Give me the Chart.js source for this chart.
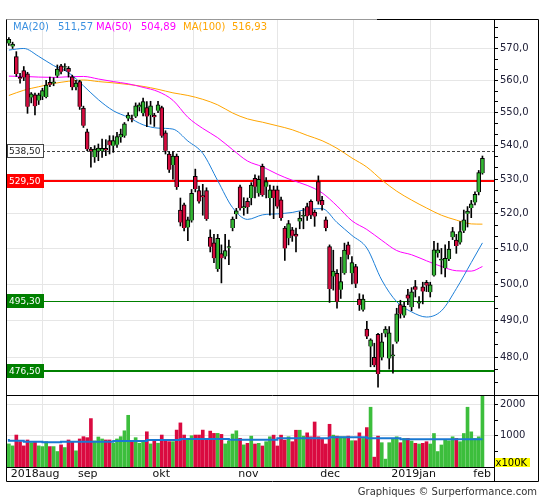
<!DOCTYPE html>
<html>
<head>
<meta charset="utf-8">
<script src="https://cdn.jsdelivr.net/npm/chart.js@4.4.1/dist/chart.umd.min.js"></script>
<style>
    body { margin: 0; background: #fff; }
    #wrap { position: relative; width: 545px; height: 500px; }
    canvas { position: absolute; left: 0; top: 0; }
</style>
</head>
<body>
<div id="wrap">
    <canvas id="priceChart" width="545" height="500"></canvas>
    <canvas id="volChart" width="545" height="500"></canvas>
</div>
<script>
// months on the time axis (index of first trading day)
var monthIdx = [0, 18, 38, 61, 83, 102, 124];
var monthLabels = ['2018aug', 'sep', 'okt', 'nov', 'dec', '2019jan', 'feb'];

var opens = [
    571.6, 570.6, 567.4, 560.9, 563.0, 562.0, 554.7, 555.5, 553.7, 555.0,
    554.8, 559.4, 559.0, 561.4, 564.5, 564.0, 563.7, 561.1, 557.8, 559.6,
    551.4, 544.2, 539.0, 536.5, 538.5, 538.4, 539.2, 541.5, 540.0, 540.3,
    542.5, 543.0, 548.2, 548.2, 548.8, 551.7, 549.8, 551.6, 549.3, 549.3,
    550.6, 551.6, 543.9, 537.5, 534.2, 536.9, 521.0, 522.5, 516.0, 518.0,
    530.9, 526.7, 525.2, 526.7, 513.2, 511.6, 504.2, 508.5, 507.7, 510.2,
    515.8, 519.8, 527.8, 521.6, 523.5, 524.5, 530.3, 525.9, 533.8, 527.8,
    524.5, 526.9, 526.9, 524.0, 515.8, 512.9, 515.3, 514.1, 517.7, 519.2,
    522.0, 523.5, 520.4, 529.3, 523.8, 518.2, 510.5, 502.1, 503.0, 498.4,
    503.0, 511.0, 503.0, 504.9, 495.8, 492.9, 487.6, 482.9, 480.0, 486.2,
    480.0, 486.4, 479.7, 480.3, 484.2, 494.3, 491.3, 497.0, 493.6, 499.3,
    494.7, 499.2, 500.5, 497.7, 502.4, 508.6, 506.6, 504.4, 507.0, 513.2,
    512.4, 511.7, 515.0, 519.9, 521.6, 523.2, 526.2, 531.8
];
var highs = [
    573.5, 572.0, 569.0, 562.2, 564.3, 562.5, 556.2, 556.0, 556.0, 557.5,
    560.0, 561.0, 560.8, 564.8, 565.0, 565.2, 564.3, 561.6, 560.0, 560.0,
    552.0, 545.0, 539.5, 540.0, 540.5, 542.0, 541.8, 543.0, 543.0, 544.0,
    545.0, 547.0, 550.0, 549.3, 553.0, 553.0, 554.5, 553.4, 553.5, 549.8,
    553.5, 552.0, 544.5, 538.2, 538.2, 537.5, 524.5, 523.0, 519.0, 527.0,
    533.0, 528.0, 528.5, 527.5, 515.3, 514.0, 514.0, 511.0, 514.0, 512.4,
    519.0, 521.5, 528.3, 524.6, 524.5, 529.0, 531.3, 531.0, 534.5, 530.5,
    528.3, 528.0, 528.0, 524.8, 516.3, 518.0, 516.0, 515.8, 520.5, 521.5,
    523.0, 524.0, 521.0, 531.0, 525.0, 519.0, 511.0, 509.5, 504.0, 507.5,
    511.5, 511.8, 507.7, 505.5, 497.3, 497.0, 489.7, 485.0, 483.8, 486.5,
    486.5, 488.3, 488.3, 483.4, 493.3, 495.5, 495.0, 498.5, 499.0, 501.0,
    496.5, 500.5, 501.0, 500.5, 512.0, 511.5, 510.0, 511.0, 512.0, 516.0,
    514.0, 517.7, 521.0, 522.0, 523.8, 526.3, 532.6, 536.9
];
var lows = [
    571.0, 570.0, 561.2, 559.1, 559.9, 549.8, 553.0, 549.3, 552.5, 554.0,
    554.5, 558.0, 558.3, 560.9, 562.0, 563.0, 561.0, 557.0, 557.0, 551.0,
    545.5, 538.5, 533.6, 535.0, 535.5, 536.5, 537.0, 537.5, 538.0, 539.5,
    541.0, 542.5, 547.5, 547.2, 548.5, 550.5, 549.0, 545.7, 546.5, 545.8,
    550.0, 542.5, 537.5, 532.0, 530.0, 527.0, 516.4, 515.0, 512.2, 517.5,
    526.3, 523.0, 519.5, 518.0, 509.0, 506.0, 503.5, 500.3, 507.0, 505.4,
    515.0, 518.5, 521.0, 519.5, 520.0, 522.5, 524.5, 525.0, 525.0, 524.5,
    519.5, 518.5, 521.5, 518.0, 506.6, 511.0, 512.0, 509.0, 515.6, 515.6,
    518.0, 518.5, 516.3, 522.7, 521.0, 515.0, 494.9, 498.3, 493.3, 496.0,
    502.7, 507.0, 500.0, 499.0, 492.7, 492.5, 485.0, 477.5, 477.5, 472.1,
    479.3, 485.5, 476.9, 475.8, 483.8, 490.6, 490.8, 494.3, 492.6, 496.4,
    493.3, 494.5, 497.9, 496.4, 502.2, 507.5, 502.8, 502.0, 506.5, 512.5,
    508.6, 511.2, 514.5, 516.1, 518.8, 522.5, 525.4, 531.5
];
var closes = [
    572.9, 571.4, 562.0, 560.5, 560.9, 551.8, 555.8, 552.0, 555.5, 556.8,
    558.5, 558.6, 559.5, 563.5, 562.7, 564.3, 562.7, 557.8, 559.1, 551.8,
    546.0, 538.9, 538.4, 539.0, 539.3, 539.2, 538.6, 540.2, 541.5, 542.7,
    543.5, 546.6, 549.3, 547.9, 552.1, 552.4, 553.4, 548.8, 552.1, 548.6,
    552.4, 543.0, 538.5, 532.8, 536.9, 527.7, 517.4, 515.8, 518.2, 525.9,
    527.1, 523.5, 524.8, 518.4, 510.5, 507.2, 512.9, 507.2, 509.4, 510.5,
    518.4, 520.8, 521.5, 522.0, 521.8, 528.3, 527.8, 530.0, 525.4, 529.3,
    526.9, 524.5, 522.0, 518.7, 510.0, 517.1, 513.6, 513.4, 518.7, 519.5,
    519.2, 519.6, 519.1, 523.5, 522.5, 515.8, 498.6, 503.6, 495.1, 500.7,
    509.5, 508.2, 506.0, 500.1, 494.2, 495.8, 485.6, 484.7, 477.9, 475.6,
    484.2, 487.6, 486.6, 480.7, 491.8, 491.8, 493.8, 496.0, 497.8, 498.4,
    495.1, 497.9, 499.6, 499.8, 509.6, 509.6, 507.0, 507.2, 509.8, 514.8,
    510.7, 514.8, 518.2, 520.7, 522.8, 525.6, 532.0, 536.2
];
// volume, in units of 100K
var volumes = [
    738, 675, 1022, 811, 675, 864, 779, 811, 675, 653,
    811, 653, 653, 495, 707, 622, 864, 790, 517, 896,
    970, 938, 1548, 833, 959, 896, 864, 864, 760, 896,
    970, 1158, 1653, 833, 938, 760, 833, 1126, 738, 833,
    760, 1022, 833, 811, 811, 1180, 1410, 1022, 864, 1000,
    1022, 1022, 1180, 864, 1148, 1075, 1075, 1043, 738, 833,
    1054, 1158, 917, 707, 756, 987, 735, 756, 672, 809,
    966, 1019, 672, 1019, 861, 966, 809, 1176, 1176, 987,
    1092, 966, 1439, 966, 882, 735, 1366, 1019, 987, 966,
    966, 987, 840, 840, 1092, 914, 1260, 1911, 315, 987,
    777, 252, 777, 893, 966, 777, 914, 914, 830, 757,
    735, 757, 809, 735, 1071, 494, 704, 882, 840, 966,
    914, 809, 1071, 1911, 1124, 914, 966, 2500
];

// moving averages every 4 sessions
var maIdx = [0, 4, 8, 12, 16, 20, 24, 28, 32, 36, 40, 44, 48, 52, 56, 60, 64,
    68, 72, 76, 80, 84, 88, 92, 96, 100, 104, 108, 112, 116, 120, 124, 127];
var ma20 = [569.5, 570.0, 567.5, 564.6, 562.4, 558.3, 554.0, 550.6, 548.6, 546.3, 545.3,
    545.0, 541.4, 537.7, 529.6, 521.7, 518.3, 519.6, 519.9, 520.3, 521.2, 521.4,
    517.4, 513.7, 510.1, 501.1, 495.1, 492.3, 490.9, 492.6, 498.7, 506.0, 511.57];
var ma50 = [561.3, 561.2, 561.0, 560.9, 561.1, 561.2, 560.4, 559.6, 558.9, 557.8, 556.5,
    553.8, 548.6, 545.2, 542.4, 538.8, 535.4, 533.7, 531.5, 529.7, 528.2, 526.0,
    522.2, 517.9, 515.4, 512.3, 509.4, 508.2, 506.5, 504.9, 503.7, 503.6, 504.89];
var ma100 = [555.3, 556.9, 558.0, 559.0, 559.7, 560.1, 559.6, 559.2, 558.7, 558.1, 557.2,
    556.1, 555.3, 554.1, 552.4, 549.9, 548.1, 547.1, 546.0, 544.8, 543.1, 541.5,
    539.2, 536.3, 533.6, 529.8, 526.5, 523.9, 521.6, 519.5, 518.1, 517.0, 516.93];
var maNames = ['MA(20)', 'MA(50)', 'MA(100)'];
var maLast = [511.57, 504.89, 516.93];

// average volume (stepped line)
var volAvgIdx = [0, 4, 9, 14, 28, 37, 46, 59, 72, 86, 96, 105, 112, 127];
var volAvg = [896, 843, 811, 790, 811, 833, 864, 896, 875, 917, 949, 917, 886, 886];

var priceTicks = [480, 490, 500, 510, 520, 530, 540, 550, 560, 570];
var volTicks = [1000, 2000];
var levels = [538.5, 529.5, 495.3, 476.5];

var upColor = 'rgb(50, 182, 50)';
var downColor = 'rgb(214, 10, 62)';
var maColors = ['#1c7fd8', '#ff00ff', '#ffa500'];
var maTextColors = ['#3a90e0', '#ff00ff', '#ffa500'];
var levelStyle = [
    { line: '#444', width: 1, dash: [3, 2], box: '#fff', border: '#444', text: '#222' },
    { line: '#ff0000', width: 2, box: '#ff0000', text: '#fff' },
    { line: '#008000', width: 1, box: '#008000', text: '#fff' },
    { line: '#008000', width: 2, box: '#008000', text: '#fff' }
];

Chart.defaults.font.family = "'DejaVu Sans', Verdana, sans-serif";
Chart.defaults.font.size = 10;
Chart.defaults.color = '#202038';

function isUp(i) { return closes[i] >= opens[i]; }
function maPoints(vals) {
    return maIdx.map(function (x, k) { return { x: x, y: vals[k] }; });
}
function fmt(v, d) { return v.toFixed(d).replace('.', ','); }

var candleColors = opens.map(function (o, i) { return isUp(i) ? upColor : downColor; });
var bodies = opens.map(function (o, i) { return { x: i, y: [o, closes[i]] }; });
var wicks = opens.map(function (o, i) { return { x: i, y: [lows[i], highs[i]] }; });

function timeAxis(showLabels) {
    return {
        type: 'linear', min: -0.5, max: 130.1, offset: false,
        afterBuildTicks: function (s) {
            s.ticks = monthIdx.map(function (v) { return { value: v }; });
        },
        afterFit: function (s) { s.height = showLabels ? 15 : 0; },
        ticks: {
            display: showLabels, autoSkip: false, maxRotation: 0, align: 'start',
            labelOffset: 2, padding: 1, color: '#111', font: { size: 11 },
            callback: function (v, i) { return monthLabels[i]; }
        },
        grid: {
            drawTicks: false,
            color: function (c) { return c.index > 0 ? '#e6e6e6' : 'rgba(0,0,0,0)'; }
        },
        border: { display: false }
    };
}

//////////////////////////
// price panel
//////////////////////////
var levelPlugin = {
    id: 'levels',
    beforeDatasetsDraw: function (chart) {
        var ctx = chart.ctx, a = chart.chartArea, y = chart.scales.y;
        ctx.save();
        levels.forEach(function (v, k) {
            var st = levelStyle[k];
            var py = Math.round(y.getPixelForValue(v)) + (st.width % 2 ? 0.5 : 0);
            ctx.strokeStyle = st.line;
            ctx.lineWidth = st.width;
            ctx.setLineDash(st.dash || []);
            ctx.beginPath();
            ctx.moveTo(a.left, py);
            ctx.lineTo(a.right, py);
            ctx.stroke();
        });
        ctx.restore();
    },
    afterDatasetsDraw: function (chart) {
        var ctx = chart.ctx, a = chart.chartArea, y = chart.scales.y;
        ctx.save();
        ctx.font = "9px 'DejaVu Sans'";
        ctx.textBaseline = 'middle';
        levels.forEach(function (v, k) {
            var st = levelStyle[k];
            var py = Math.round(y.getPixelForValue(v));
            ctx.fillStyle = st.box;
            ctx.fillRect(a.left, py - 7, 37, 14);
            if (st.border) {
                ctx.strokeStyle = st.border;
                ctx.lineWidth = 1;
                ctx.strokeRect(a.left + 0.5, py - 6.5, 36, 13);
            }
            ctx.fillStyle = st.text;
            ctx.fillText(fmt(v, 2), a.left + 2, py + 0.5);
        });
        // legend
        ctx.font = "10px 'DejaVu Sans'";
        var xs = [13, 58, 96, 141, 183, 232];
        maNames.forEach(function (n, k) {
            ctx.fillStyle = maTextColors[k];
            ctx.fillText(n, xs[k * 2], 27);
            ctx.fillText(fmt(maLast[k], 2), xs[k * 2 + 1], 27);
        });
        ctx.restore();
    }
};

new Chart(document.getElementById('priceChart'), {
    type: 'bar',
    data: {
        datasets: [0, 1, 2].map(function (k) {
            return {
                type: 'line', data: maPoints([ma20, ma50, ma100][k]),
                borderColor: maColors[k], borderWidth: 1, pointRadius: 0,
                cubicInterpolationMode: 'monotone', order: 3
            };
        }).concat([{
            data: wicks, backgroundColor: '#000', barThickness: 1,
            grouped: false, order: 2
        }, {
            data: bodies, backgroundColor: candleColors, borderColor: '#000',
            borderWidth: 1, barThickness: 4, minBarLength: 1,
            grouped: false, order: 1
        }])
    },
    options: {
        responsive: false, animation: false, devicePixelRatio: 1,
        layout: { padding: { left: 7, right: 7, top: 20, bottom: 105 } },
        plugins: { legend: { display: false }, tooltip: { enabled: false } },
        scales: {
            x: timeAxis(false),
            y: {
                type: 'logarithmic', position: 'right', min: 470.06, max: 579.1,
                afterBuildTicks: function (s) {
                    var t = [];
                    for (var k = 0; k <= 33; k++) {
                        var v = 470 + k * 10 / 3;
                        if (v >= s.min && v <= s.max) {
                            t.push({ value: v, lbl: priceTicks.some(function (p) { return Math.abs(p - v) < 0.01; }) });
                        }
                    }
                    s.ticks = t;
                },
                afterFit: function (s) { s.width = 44; },
                ticks: {
                    autoSkip: false, padding: 2,
                    callback: function (v, i, ticks) { return ticks[i].lbl ? fmt(v, 1) : ''; }
                },
                grid: {
                    color: function (c) { return c.tick && c.tick.lbl ? '#e6e6e6' : 'rgba(0,0,0,0)'; },
                    tickColor: '#000', tickLength: 4
                },
                border: { display: false }
            }
        }
    },
    plugins: [levelPlugin]
});

//////////////////////////
// volume panel + frame
//////////////////////////
var framePlugin = {
    id: 'frame',
    afterDraw: function (chart) {
        var ctx = chart.ctx, a = chart.chartArea;
        ctx.save();
        ctx.strokeStyle = '#000';
        ctx.lineWidth = 1;
        ctx.beginPath();
        ctx.moveTo(6.5, 19.5); ctx.lineTo(6.5, 481.5);
        ctx.lineTo(538.5, 481.5); ctx.lineTo(538.5, 19.5);
        ctx.lineTo(377, 19.5);
        ctx.moveTo(a.right + 0.5, 19.5); ctx.lineTo(a.right + 0.5, 481.5);
        ctx.moveTo(6.5, a.top - 0.5); ctx.lineTo(538.5, a.top - 0.5);
        ctx.moveTo(6.5, a.bottom + 0.5); ctx.lineTo(a.right + 0.5, a.bottom + 0.5);
        ctx.stroke();
        ctx.strokeStyle = '#333';
        ctx.setLineDash([1, 1]);
        ctx.beginPath();
        ctx.moveTo(6.5, 19.5); ctx.lineTo(377, 19.5);
        ctx.stroke();
        ctx.setLineDash([]);

        ctx.fillStyle = '#ffff00';
        ctx.fillRect(a.right + 1, a.bottom - 9, 35, 9);
        ctx.fillStyle = '#000';
        ctx.font = "10px 'DejaVu Sans'";
        ctx.textBaseline = 'alphabetic';
        ctx.fillText('x100K', a.right + 1.5, a.bottom - 1);

        ctx.fillStyle = '#333';
        ctx.textAlign = 'right';
        ctx.fillText('Graphiques \u00A9 Surperformance.com', 537, 494.5);
        ctx.restore();
    }
};

new Chart(document.getElementById('volChart'), {
    type: 'bar',
    data: {
        datasets: [{
            type: 'line', data: volAvgIdx.map(function (x, k) { return { x: x, y: volAvg[k] }; }),
            stepped: 'after', borderColor: '#1a78d2', borderWidth: 2, pointRadius: 0, order: 0
        }, {
            data: volumes.map(function (v, i) { return { x: i, y: v }; }),
            backgroundColor: volumes.map(function (v, i) { return isUp(i) ? 'rgb(60, 190, 60)' : 'rgb(218, 10, 64)'; }),
            barThickness: 3, grouped: false, order: 1
        }]
    },
    options: {
        responsive: false, animation: false, devicePixelRatio: 1,
        layout: { padding: { left: 7, right: 7, top: 396, bottom: 18 } },
        plugins: { legend: { display: false }, tooltip: { enabled: false } },
        scales: {
            x: timeAxis(true),
            y: {
                type: 'linear', position: 'right', min: 0, max: 2270,
                afterBuildTicks: function (s) {
                    s.ticks = [500, 1000, 1500, 2000].map(function (v) {
                        return { value: v, lbl: volTicks.indexOf(v) >= 0 };
                    });
                },
                afterFit: function (s) { s.width = 44; },
                ticks: {
                    autoSkip: false, padding: 2,
                    callback: function (v, i, ticks) { return ticks[i].lbl ? String(v) : ''; }
                },
                grid: {
                    color: function (c) { return c.tick && c.tick.lbl ? '#e6e6e6' : 'rgba(0,0,0,0)'; },
                    tickColor: '#000', tickLength: 4
                },
                border: { display: false }
            }
        }
    },
    plugins: [framePlugin]
});
</script>
</body>
</html>
